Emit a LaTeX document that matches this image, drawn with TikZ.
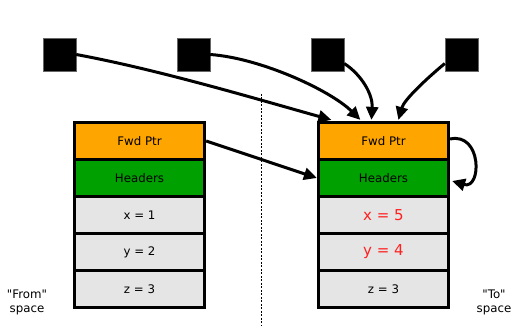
\documentclass[tikz,border=0pt]{standalone}
\usepackage{fontspec}
\setmainfont{DejaVu Sans}[Ligatures=TeXOff]
\usetikzlibrary{arrows.meta}
\definecolor{fwd}{HTML}{FFA500}
\definecolor{hdr}{HTML}{00A000}
\definecolor{cell}{HTML}{E5E5E5}
\definecolor{redtxt}{HTML}{FF2020}
\begin{document}
\begin{tikzpicture}[x=1pt,y=-1pt,
  row/.style={draw=black,line width=3.2pt,minimum width=130pt,minimum height=37pt,inner sep=0pt,font=\fontsize{11.8}{14}\selectfont},
  sq/.style={fill=black,draw=black!60,line width=0.4pt,minimum width=33pt,minimum height=33pt,inner sep=0pt},
  ptr/.style={line width=3pt,-{Triangle[length=13pt,width=12pt]}},
  lbl/.style={align=center,font=\fontsize{11.8}{14}\selectfont}]
\useasboundingbox (0,0) rectangle (523,326);
% squares
\node[sq] (s1) at (59.5,54.5) {};
\node[sq] (s2) at (193.5,54.5) {};
\node[sq] (s3) at (327.5,54.5) {};
\node[sq] (s4) at (461.5,54.5) {};
% left stack
\node[row,fill=fwd] (l1) at (139.5,141) {Fwd Ptr};
\node[row,fill=hdr] (l2) at (139.5,178) {Headers};
\node[row,fill=cell] (l3) at (139.5,215) {x = 1};
\node[row,fill=cell] (l4) at (139.5,252) {y = 2};
\node[row,fill=cell] (l5) at (139.5,289) {z = 3};
% right stack
\node[row,fill=fwd] (t1) at (383.5,141) {Fwd Ptr};
\node[row,fill=hdr] (t2) at (383.5,178) {Headers};
\node[row,fill=cell,text=redtxt,font=\fontsize{15}{18}\selectfont] (t3) at (383.5,215) {x = 5};
\node[row,fill=cell,text=redtxt,font=\fontsize{15}{18}\selectfont] (t4) at (383.5,252) {y = 4};
\node[row,fill=cell] (t5) at (383.5,289) {z = 3};
% divider
\coordinate (d1) at (261,94);
\coordinate (d2) at (261,326);
\draw[line width=1pt,dash pattern=on 2pt off 1.5pt] (d1) -- (d2);
% labels
\node[lbl] (fromlbl) at (27,302) {"From"\\space};
\node[lbl] (tolbl) at (494,302) {"To"\\space};
% arrows
\draw[ptr] (s1.east) .. controls (160,70) and (260,100) .. ([xshift=14.5pt,yshift=1pt]t1.north west);
\draw[ptr] (s2.east) .. controls (260,58) and (330,90) .. ([xshift=43.5pt,yshift=1pt]t1.north west);
\draw[ptr] ([yshift=-9pt]s3.east) .. controls (362,75) and (373,95) .. ([xshift=54.5pt,yshift=1pt]t1.north west);
\draw[ptr] ([yshift=-9pt]s4.west) .. controls (425,80) and (404,100) .. ([xshift=81.5pt,yshift=1pt]t1.north west);
\draw[ptr] (l1.east) -- (t2.west);
\draw[ptr] ([yshift=2pt]t1.east) .. controls (482,132) and (482,190) .. ([xshift=2pt,yshift=-3pt]t2.east);
\end{tikzpicture}
\end{document}
